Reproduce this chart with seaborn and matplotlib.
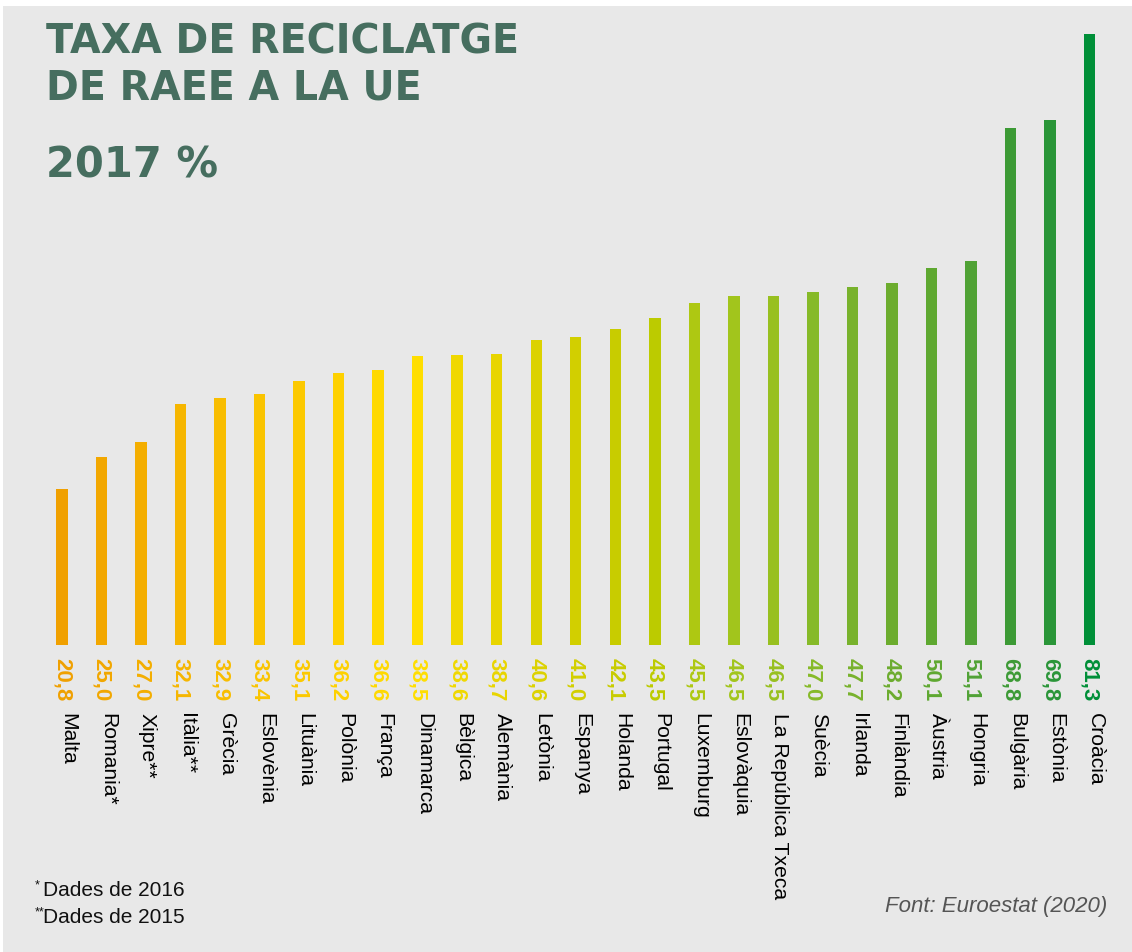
import matplotlib
matplotlib.use("Agg")
import matplotlib.pyplot as plt
import matplotlib.transforms as mtransforms
from matplotlib import font_manager
from matplotlib.patches import Rectangle
import seaborn as sns
import pandas as pd

# ---------------- data ----------------
countries = ["Malta", "Romania*", "Xipre**", "Itàlia**", "Grècia", "Eslovènia",
             "Lituània", "Polònia", "França", "Dinamarca", "Bèlgica", "Alemània",
             "Letònia", "Espanya", "Holanda", "Portugal", "Luxemburg", "Eslovàquia",
             "La República Txeca", "Suècia", "Irlanda", "Finlàndia", "Àustria",
             "Hongria", "Bulgària", "Estònia", "Croàcia"]
values = [20.8, 25.0, 27.0, 32.1, 32.9, 33.4, 35.1, 36.2, 36.6, 38.5, 38.6, 38.7,
          40.6, 41.0, 42.1, 43.5, 45.5, 46.5, 46.5, 47.0, 47.7, 48.2, 50.1, 51.1,
          68.8, 69.8, 81.3]
value_labels = [f"{v:.1f}".replace(".", ",") for v in values]

title_lines = ["TAXA DE RECICLATGE", "DE RAEE A LA UE"]
subtitle = "2017 %"
note_marks = ["*", "**"]
notes = ["Dades de 2016", "Dades de 2015"]
source = "Font: Euroestat (2020)"

# ---------------- style ----------------
bar_colors = ["#f0a000", "#f2a700", "#f4ae00", "#f6b600", "#f8bd00", "#fac400",
              "#fcc900", "#fed100", "#ffd900", "#ffde00", "#f0d800", "#e8d500",
              "#dcd200", "#d2cf00", "#c8cc00", "#bccb00", "#aec812", "#a2c51c",
              "#98c020", "#86ba28", "#78b22c", "#6cac2e", "#5ea830", "#50a235",
              "#3c9a35", "#2a9538", "#008f38"]
BG = "#e8e8e8"
TITLE_C = "#466e5f"

available = {f.name for f in font_manager.fontManager.ttflist}
narrow = "Liberation Sans Narrow" if "Liberation Sans Narrow" in available else None

sns.set_theme(style="white")
plt.rcParams["font.family"] = ["Liberation Sans", "DejaVu Sans"]

W, H, DPI = 1132, 952, 100
fig = plt.figure(figsize=(W / DPI, H / DPI), dpi=DPI, facecolor="white")
fig.patches.append(Rectangle((3 / W, 0), 1, (H - 6) / H, transform=fig.transFigure,
                             facecolor=BG, edgecolor="none", zorder=-10))

# axes placement (pixels -> fraction)
spacing = 39.52
x_left = 62 - 0.5 * spacing
ax_w = 27 * spacing
baseline_px = 645
ymax = 82
px_per_unit = 7.515
ax = fig.add_axes([x_left / W, (H - baseline_px) / H, ax_w / W, ymax * px_per_unit / H])
ax.set_facecolor("none")

df = pd.DataFrame({"country": countries, "value": values})
sns.barplot(data=df, x="country", y="value", hue="country", palette=bar_colors,
            width=0.29, legend=False, ax=ax, saturation=1, dodge=False, linewidth=0)
ax.set_xlim(-0.5, 26.5)
ax.set_ylim(0, ymax)
ax.set_axis_off()

if narrow:
    cfam, csize = [narrow, "DejaVu Sans"], 18.3
else:
    cfam, csize = ["Liberation Sans", "DejaVu Sans"], 15.2

base_tr = ax.get_xaxis_transform()
for i, (c, lab, col) in enumerate(zip(countries, value_labels, bar_colors)):
    tr_v = base_tr + mtransforms.ScaledTranslation(-5.5 / DPI, -13 / DPI, fig.dpi_scale_trans)
    ax.text(i, 0, lab, transform=tr_v, rotation=-90, rotation_mode="anchor",
            ha="left", va="baseline", fontsize=16, fontweight="bold",
            color=col, family=["Liberation Sans", "DejaVu Sans"])
    tr_c = base_tr + mtransforms.ScaledTranslation(0.5 / DPI, -68 / DPI, fig.dpi_scale_trans)
    ax.text(i, 0, c, transform=tr_c, rotation=-90, rotation_mode="anchor",
            ha="left", va="baseline", fontsize=csize, color="black", family=cfam)

# titles
fig.text(46 / W, (H - 53) / H, title_lines[0], fontsize=28.5, fontweight="bold",
         color=TITLE_C, family="DejaVu Sans", va="baseline", ha="left")
fig.text(46 / W, (H - 100) / H, title_lines[1], fontsize=28.5, fontweight="bold",
         color=TITLE_C, family="DejaVu Sans", va="baseline", ha="left")
fig.text(46 / W, (H - 178) / H, subtitle, fontsize=30, fontweight="bold",
         color=TITLE_C, family="DejaVu Sans", va="baseline", ha="left")

# footnotes
for j, (mk, nt, base) in enumerate(zip(note_marks, notes, [896, 923])):
    fig.text(35 / W, (H - base + 8) / H, mk, fontsize=9, color="#111111",
             va="baseline", ha="left")
    fig.text(43 / W, (H - base) / H, nt, fontsize=15, color="#111111",
             va="baseline", ha="left")
fig.text(1107 / W, (H - 912) / H, source, fontsize=16, color="#555555",
         style="italic", va="baseline", ha="right")

fig.savefig("out.png", dpi=DPI, facecolor="white")
